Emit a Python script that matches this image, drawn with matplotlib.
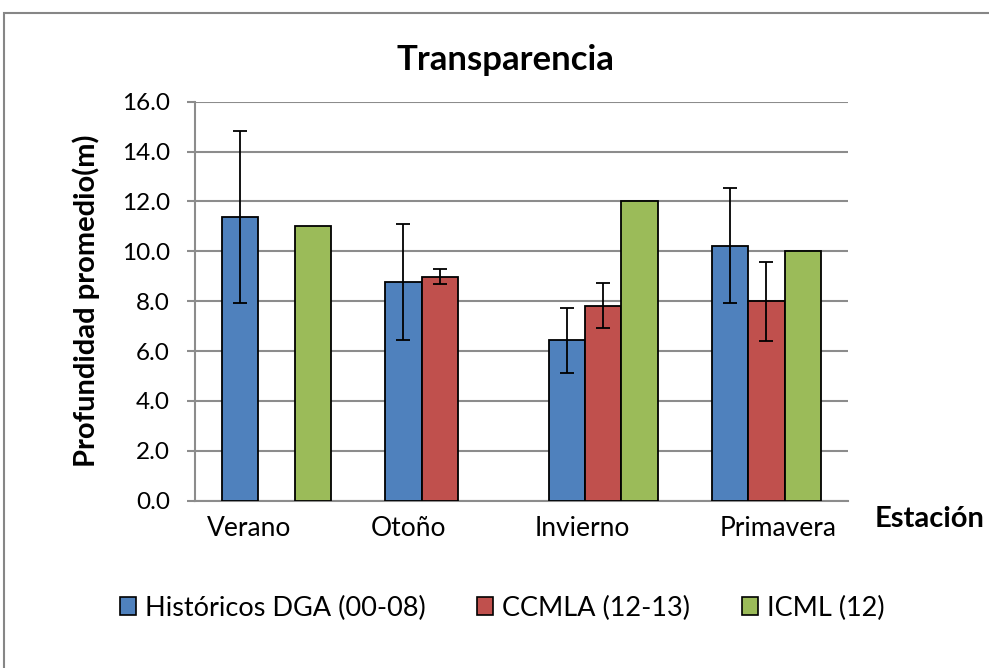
import numpy as np
import matplotlib
matplotlib.use('Agg')
import matplotlib.pyplot as plt
from matplotlib.patches import Patch, Rectangle
from matplotlib.transforms import ScaledTranslation

# datos
estaciones = ['Verano', 'Otoño', 'Invierno', 'Primavera']
historicos = [11.37, 8.77, 6.43, 10.23]
historicos_err = [3.44, 2.33, 1.30, 2.31]
ccmla = [np.nan, 8.98, 7.82, 8.00]
ccmla_err = [np.nan, 0.30, 0.90, 1.59]
icml = [11.0, np.nan, 12.0, 10.0]

series = ['Históricos DGA (00-08)', 'CCMLA (12-13)', 'ICML (12)']
colores = ['#4F81BD', '#C0504D', '#9BBB59']

plt.rcParams['font.family'] = ['Lato', 'DejaVu Sans']

fig = plt.figure(figsize=(9.89, 6.68), dpi=100)
fig.patches.append(Rectangle((4/989, -0.05), 1.2, 1 - 13/668 + 0.05, transform=fig.transFigure,
                             fill=False, edgecolor='#868686', linewidth=1.5, zorder=0))

ax = fig.add_axes([195/989, 1 - 500.7/668, 653/989, 399/668])

x = np.arange(len(estaciones))
w = 0.223
ek = dict(ecolor='black', elinewidth=1.3, capsize=5, capthick=1.3)
ax.bar(x - w, historicos, w, color=colores[0], edgecolor='black', linewidth=1.3,
       yerr=historicos_err, error_kw=ek, zorder=3)
ax.bar(x, ccmla, w, color=colores[1], edgecolor='black', linewidth=1.3,
       yerr=ccmla_err, error_kw=ek, zorder=3)
ax.bar(x + w, icml, w, color=colores[2], edgecolor='black', linewidth=1.3, zorder=3)

ax.set_xlim(-0.5, 3.5)
ax.set_ylim(0, 16)
ax.set_yticks(np.arange(0, 16.1, 2))
ax.set_yticklabels(['%.1f' % v for v in np.arange(0, 16.1, 2)], fontsize=17.5)
ax.grid(axis='y', color='#8c8c8c', linewidth=1.5, zorder=0)
ax.set_axisbelow(True)
for s in ['top', 'right']:
    ax.spines[s].set_visible(False)
for s in ['left', 'bottom']:
    ax.spines[s].set_color('#8c8c8c')
    ax.spines[s].set_linewidth(1.5)
ax.tick_params(axis='y', length=6, width=1.5, color='#8c8c8c', pad=12)

ax.set_xticks(x)
ax.set_xticklabels(estaciones, fontsize=19)
ax.tick_params(axis='x', length=0, pad=11)
# las etiquetas del original no estan centradas en cada grupo
desplaz = [-28, -31, -21, 12]
for lab, d in zip(ax.get_xticklabels(), desplaz):
    lab.set_transform(lab.get_transform() + ScaledTranslation(d/100, 0, fig.dpi_scale_trans))

ax.set_ylabel('Profundidad promedio(m)', fontsize=21, fontweight='bold', va='center')
ax.yaxis.set_label_coords((86 - 195)/653, 0.5)

fig.text(505/989, 1 - 70/668, 'Transparencia', fontsize=25, fontweight='bold', ha='center', va='baseline')
fig.text(875/989, 1 - 527/668, 'Estación', fontsize=21, fontweight='bold', ha='left', va='baseline')

handles = [Patch(facecolor=c, edgecolor='black', linewidth=1.2) for c in colores]
fig.legend(handles, series, loc='center', bbox_to_anchor=(502/989, 1 - 608/668), ncol=3,
           frameon=False, fontsize=19.5, handlelength=0.6, handleheight=0.6,
           handletextpad=0.33, columnspacing=1.9)

plt.savefig('out.png', dpi=100)
